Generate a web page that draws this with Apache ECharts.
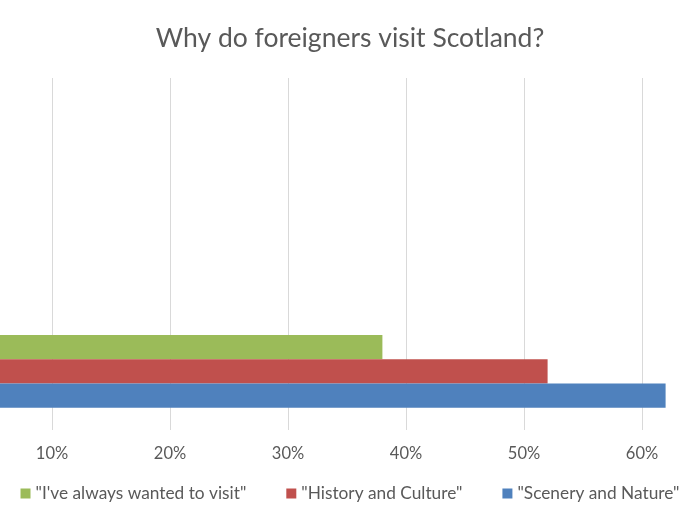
<!DOCTYPE html>
<html>
<head>
<meta charset="utf-8">
<script src="https://cdn.jsdelivr.net/npm/echarts@6/dist/echarts.min.js"></script>
<style>
html,body{margin:0;padding:0;background:#fff;}
#c{width:700px;height:527px;}
</style>
</head>
<body>
<div id="c"></div>
<script>
const categories = ['', '', ''];
const seriesNames = ['"I\'ve always wanted to visit"', '"History and Culture"', '"Scenery and Nature"'];
const alwaysValues = [38, null, null];
const historyValues = [52, null, null];
const sceneryValues = [62, null, null];

const FONT = 'Lato, "Open Sans", sans-serif';
const TXT = '#595959';
const chart = echarts.init(document.getElementById('c'));
chart.setOption({
  animation: false,
  backgroundColor: '#fff',
  title: {
    text: 'Why do foreigners visit Scotland?',
    left: 'center',
    top: 20,
    textStyle: {fontFamily: FONT, fontSize: 26.5, fontWeight: 'normal', color: TXT}
  },
  legend: {
    data: seriesNames,
    bottom: 20,
    left: 'center',
    icon: 'rect',
    itemWidth: 10,
    itemHeight: 10,
    itemGap: 40,
    textStyle: {fontFamily: FONT, fontSize: 17.3, color: TXT}
  },
  grid: {left: -66, right: -60, top: 78, bottom: 97, containLabel: false, outerBoundsMode: 'none'},
  xAxis: {
    type: 'value',
    min: 0,
    max: 70,
    interval: 10,
    axisLine: {show: false},
    axisTick: {show: false},
    splitLine: {lineStyle: {color: '#d9d9d9', width: 1}},
    axisLabel: {formatter: '{value}%', fontFamily: FONT, fontSize: 16.5, color: TXT, margin: 15}
  },
  yAxis: {
    type: 'category',
    data: categories,
    axisLine: {show: false},
    axisTick: {show: false},
    axisLabel: {show: false}
  },
  series: [
    {name: seriesNames[0], type: 'bar', data: alwaysValues, itemStyle: {color: '#9BBB59'}, barGap: '0%', barCategoryGap: '38%'},
    {name: seriesNames[1], type: 'bar', data: historyValues, itemStyle: {color: '#C0504D'}, barGap: '0%', barCategoryGap: '38%'},
    {name: seriesNames[2], type: 'bar', data: sceneryValues, itemStyle: {color: '#4F81BD'}, barGap: '0%', barCategoryGap: '38%'}
  ]
});
</script>
</body>
</html>
